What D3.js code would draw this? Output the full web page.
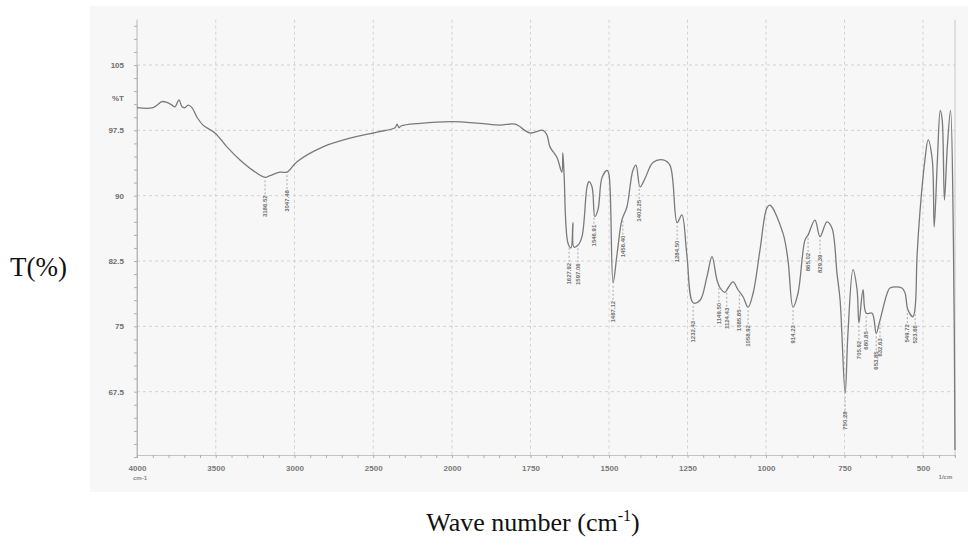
<!DOCTYPE html>
<html><head><meta charset="utf-8">
<script src="https://cdn.jsdelivr.net/npm/d3@7"></script>
<style>body{margin:0;background:#fff}</style></head>
<body><svg id="c" width="970" height="542"></svg>
<script>
const wavenumbers=[4000,3898,3841,3810,3778,3759,3733,3714,3695,3676,3651,3619,3581,3505,3429,3346,3264,3187,3156,3092,3048,2984,2819,2648,2476,2362,2349,2337,2324,2203,2000,1911,1847,1799,1752,1710,1698,1688,1666,1650,1647,1643,1631,1621,1615,1612,1599,1586,1570,1564,1554,1545,1535,1522,1506,1500,1487,1474,1459,1443,1424,1414,1401,1385,1360,1328,1306,1283,1268,1252,1232,1210,1188,1172,1156,1146,1131,1121,1105,1089,1073,1057,1041,1019,997,987,946,930,914,898,876,866,844,828,806,790,774,764,748,739,723,710,704,691,681,662,649,637,614,605,567,557,548,532,525,519,510,494,484,471,465,455,446,440,433,424,414,405,400];
const transmittance=[100.1,100.1,100.8,100.7,100.4,100.2,101.0,100.2,100.1,100.4,100.1,99.0,98.1,97.2,95.6,94.1,92.9,92.1,92.3,92.7,92.7,93.9,95.6,96.6,97.3,97.8,98.2,97.8,98.0,98.3,98.5,98.3,98.1,98.2,97.2,97.5,97.0,95.6,94.4,92.7,94.9,92.4,84.6,84.0,86.9,84.1,84.3,85.3,91.0,91.6,91.0,87.6,88.4,92.1,92.9,92.4,80.0,83.4,87.2,88.7,92.9,93.5,91.0,92.0,93.8,94.1,93.5,86.9,87.8,83.2,77.7,78.0,80.7,83.0,80.3,79.4,78.9,79.4,80.1,79.2,78.4,77.2,78.8,83.8,88.6,88.9,85.7,82.6,77.2,78.8,84.9,85.5,87.2,85.3,87.0,86.3,81.1,78.0,67.3,74.2,81.5,79.2,75.4,79.2,76.5,76.5,74.2,75.7,78.8,79.4,79.4,78.8,76.9,76.1,77.2,83.0,88.0,94.1,96.4,94.1,86.4,94.1,99.8,98.7,89.5,95.6,99.8,84.9,60.8];
const xTicks=[4000,3500,3000,2500,2000,1750,1500,1250,1000,750,500];
const yTicks=[105,97.5,90,82.5,75,67.5];
const peakWavenumbers=[3187,3048,1627,1599,1548,1487,1456,1404,1283,1232,1150,1125,1085,1057,914,866,828,748,704,681,649,637,550,525];
const peakLabels=["3186.52","3047.48","1627.92","1597.06","1546.91","1487.12","1456.40","1402.25","1284.50","1232.43","1149.50","1124.43","1085.85","1058.92","914.23","865.02","829.39","750.28","705.92","680.85","653.85","632.63","549.72","523.66"];

const svg=d3.select("#c");
const x=d3.scaleLinear().domain([4000,2000,500,400]).range([137,452,923,955]);
const y=d3.scaleLinear().domain([60,105]).range([457,65]);
const yTop=y(110.2), yBot=y(60);
const tickFont="Liberation Sans, Arial";

// scanned paper background
svg.append("rect").attr("x",90).attr("y",6).attr("width",878).attr("height",486).attr("fill","#f7f7f7");

// grid
const grid=svg.append("g").attr("stroke","#d2d2d2").attr("stroke-dasharray","3,3").attr("stroke-width",1);
grid.selectAll("line.v").data(xTicks.slice(1)).join("line")
  .attr("x1",d=>x(d)).attr("x2",d=>x(d)).attr("y1",yTop).attr("y2",yBot);
grid.selectAll("line.h").data(yTicks).join("line")
  .attr("x1",x(4000)).attr("x2",x(400)).attr("y1",d=>y(d)).attr("y2",d=>y(d));

// frame lines
svg.append("line").attr("x1",x(4000)).attr("x2",x(4000)).attr("y1",yTop).attr("y2",yBot).attr("stroke","#b8b8b8");
svg.append("line").attr("x1",x(400)).attr("x2",x(400)).attr("y1",yTop).attr("y2",yBot).attr("stroke","#c8c8c8");

// minor ticks
const yMinor=d3.range(60,110.1,1.5);
const xMinor=d3.range(4000,2000,-100).concat(d3.range(2000,399,-50));
const yMinorAxis=svg.append("g").attr("transform",`translate(${x(4000)},0)`)
  .call(d3.axisLeft(y).tickValues(yMinor).tickSize(3).tickFormat(""));
yMinorAxis.select(".domain").attr("stroke","#b8b8b8");
yMinorAxis.selectAll(".tick line").attr("stroke","#b0b0b0");
const xMinorAxis=svg.append("g").attr("transform",`translate(0,${yBot-2})`)
  .call(d3.axisTop(x).tickValues(xMinor).tickSize(-3).tickFormat(""));
xMinorAxis.select(".domain").attr("stroke","#c4c4c4");
xMinorAxis.selectAll(".tick line").attr("stroke","#b0b0b0");

// tick labels
const xAxis=svg.append("g").attr("transform",`translate(0,${yBot})`)
  .call(d3.axisBottom(x).tickValues(xTicks).tickSize(0).tickPadding(8).tickFormat(d=>d));
xAxis.select(".domain").remove();
xAxis.selectAll("text").attr("font-family",tickFont).attr("font-size",8).attr("font-weight","bold").attr("fill","#7a7a7a");
const yLabelVals=[105,101.25].concat(yTicks.slice(1));
const yAxis=svg.append("g").attr("transform",`translate(${x(4000)},0)`)
  .call(d3.axisLeft(y).tickValues(yLabelVals).tickSize(0).tickPadding(13).tickFormat(d=>d===101.25?"%T":d));
yAxis.select(".domain").remove();
yAxis.selectAll("text").attr("font-family",tickFont).attr("font-size",8).attr("font-weight","bold").attr("fill","#6f6f6f");

svg.append("text").attr("x",x(4000)+3).attr("y",yBot+23).attr("text-anchor","middle")
  .attr("font-family",tickFont).attr("font-size",6).attr("font-weight","bold").attr("fill","#888").text("cm-1");
svg.append("text").attr("x",x(430)).attr("y",yBot+22).attr("text-anchor","middle")
  .attr("font-family",tickFont).attr("font-size",6).attr("font-weight","bold").attr("fill","#888").text("1/cm");

// spectrum
const pts=wavenumbers.map((w,i)=>[w,transmittance[i]]);
svg.append("path").datum(pts)
  .attr("d",d3.line().x(d=>x(d[0])).y(d=>y(d[1])).curve(d3.curveCatmullRom.alpha(0.5)))
  .attr("fill","none").attr("stroke","#7a7a7a").attr("stroke-width",1.3);

// peak labels
function tAt(w){
  for(let i=0;i<wavenumbers.length-1;i++){
    const a=wavenumbers[i],b=wavenumbers[i+1];
    if(w<=a&&w>=b){const t=(a-w)/(a-b);return transmittance[i]+t*(transmittance[i+1]-transmittance[i]);}
  }
  return transmittance[transmittance.length-1];
}
const pk=svg.append("g");
peakWavenumbers.forEach((w,i)=>{
  const px=x(w), py=y(tAt(w));
  pk.append("line").attr("x1",px).attr("x2",px).attr("y1",py+3).attr("y2",py+17)
    .attr("stroke","#aaa").attr("stroke-dasharray","2,2");
  pk.append("text").attr("transform",`translate(${px+2},${py+18}) rotate(-90)`)
    .attr("text-anchor","end").attr("font-family",tickFont).attr("font-size",6)
    .attr("font-weight","bold").attr("fill","#707070").text(peakLabels[i]);
});

// outer titles
svg.append("text").attr("x",10).attr("y",276).attr("font-family","Liberation Serif, Times New Roman, serif")
  .attr("font-size",27).attr("fill","#111").text("T(%)");
const wt=svg.append("text").attr("x",533).attr("y",531).attr("text-anchor","middle")
  .attr("font-family","Liberation Serif, Times New Roman, serif").attr("font-size",26).attr("fill","#111");
wt.append("tspan").text("Wave number (cm");
wt.append("tspan").attr("font-size",16).attr("dy",-10).text("-1");
wt.append("tspan").attr("dy",10).text(")");
</script></body></html>
